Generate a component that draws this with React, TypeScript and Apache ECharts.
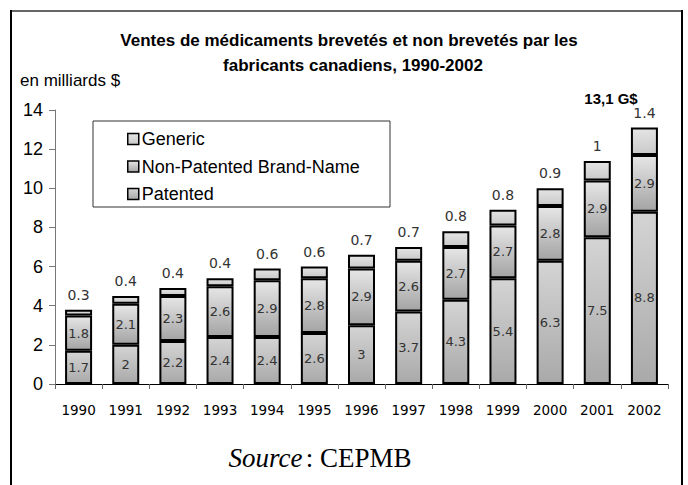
import React, { useEffect, useRef } from "react";
import * as echarts from "echarts";

const years = ["1990","1991","1992","1993","1994","1995","1996","1997","1998","1999","2000","2001","2002"];
const patented = [1.7, 2, 2.2, 2.4, 2.4, 2.6, 3, 3.7, 4.3, 5.4, 6.3, 7.5, 8.8];
const nonPatented = [1.8, 2.1, 2.3, 2.6, 2.9, 2.8, 2.9, 2.6, 2.7, 2.7, 2.8, 2.9, 2.9];
const generic = [0.3, 0.4, 0.4, 0.4, 0.6, 0.6, 0.7, 0.7, 0.8, 0.8, 0.9, 1, 1.4];
const seriesNames = ["Generic", "Non-Patented Brand-Name", "Patented"];

const grad = (top: string, bottom: string) =>
  new echarts.graphic.LinearGradient(0, 0, 0, 1, [
    { offset: 0, color: top },
    { offset: 1, color: bottom },
  ]);

export default function App() {
  const ref = useRef<HTMLDivElement>(null);
  useEffect(() => {
    if (!ref.current) return;
    const chart = echarts.init(ref.current, undefined, { renderer: "svg" });
    const labelFont = { fontFamily: "DejaVu Sans", fontSize: 13, color: "#333" };
    const border = { borderColor: "#000", borderWidth: 2 };
    chart.setOption({
      animation: false,
      backgroundColor: "#fff",
      textStyle: { fontFamily: "Liberation Sans" },
      grid: { left: 55, right: 20, top: 110, bottom: 101 },
      legend: {
        orient: "vertical",
        left: 122,
        top: 125,
        itemGap: 9.5,
        itemWidth: 11,
        itemHeight: 11,
        icon: "rect",
        data: seriesNames,
        textStyle: { fontFamily: "Liberation Sans", fontSize: 18, color: "#000", padding: [0, 0, 0, -2] },
        itemStyle: { borderColor: "#000", borderWidth: 1.5 },
      },
      xAxis: {
        type: "category",
        data: years,
        axisLine: { lineStyle: { color: "#000", width: 1 } },
        axisTick: { show: true, length: 5, lineStyle: { color: "#666" } },
        axisLabel: { fontFamily: "DejaVu Sans", fontSize: 13.5, color: "#000", margin: 19 },
      },
      yAxis: {
        type: "value",
        min: 0,
        max: 14,
        interval: 2,
        splitLine: { show: false },
        axisLine: { show: true, lineStyle: { color: "#777", width: 1 } },
        axisTick: { show: true, length: 6, lineStyle: { color: "#777" } },
        axisLabel: { fontFamily: "Liberation Sans", fontSize: 18, color: "#000", margin: 12 },
      },
      series: [
        {
          name: "Patented",
          type: "bar",
          stack: "total",
          barWidth: 27,
          data: patented,
          itemStyle: { color: grad("#d4d4d4", "#a9a9a9"), ...border },
          label: { show: true, position: "inside", ...labelFont },
        },
        {
          name: "Non-Patented Brand-Name",
          type: "bar",
          stack: "total",
          barWidth: 27,
          data: nonPatented,
          itemStyle: { color: grad("#e6e6e6", "#a4a4a4"), ...border },
          label: { show: true, position: "inside", ...labelFont },
        },
        {
          name: "Generic",
          type: "bar",
          stack: "total",
          barWidth: 27,
          data: generic,
          itemStyle: { color: grad("#e4e4e4", "#cacaca"), ...border },
          label: { show: true, position: "top", distance: 8, ...labelFont, fontSize: 14 },
        },
      ],
      graphic: [
        {
          type: "rect",
          shape: { x: 11, y: 11, width: 671, height: 500 },
          style: { fill: "none", stroke: "#000", lineWidth: 2 },
          z: 100,
        },
        {
          type: "line",
          shape: { x1: 12, y1: 11, x2: 681, y2: 11 },
          style: { stroke: "#666", lineWidth: 2 },
          z: 101,
        },
        {
          type: "rect",
          shape: { x: 93, y: 121, width: 297, height: 86 },
          style: { fill: "#fff", stroke: "#333", lineWidth: 1 },
          z: -1,
        },
        {
          type: "text",
          x: 349,
          y: 40,
          style: {
            text: "Ventes de médicaments brevetés et non brevetés par les",
            font: "bold 17px 'Liberation Sans'",
            fill: "#000",
            align: "center",
            verticalAlign: "middle",
          },
        },
        {
          type: "text",
          x: 353,
          y: 65,
          style: {
            text: "fabricants canadiens, 1990-2002",
            font: "bold 17px 'Liberation Sans'",
            fill: "#000",
            align: "center",
            verticalAlign: "middle",
          },
        },
        {
          type: "text",
          x: 20,
          y: 80,
          style: {
            text: "en milliards $",
            font: "17px 'Liberation Sans'",
            fill: "#000",
            align: "left",
            verticalAlign: "middle",
          },
        },
        {
          type: "text",
          x: 611,
          y: 98,
          style: {
            text: "13,1 G$",
            font: "bold 15px 'Liberation Sans'",
            fill: "#000",
            align: "center",
            verticalAlign: "middle",
          },
        },
        {
          type: "text",
          x: 320,
          y: 458,
          style: {
            text: "{i|Source} {n|: CEPMB}",
            align: "center",
            verticalAlign: "middle",
            rich: {
              i: { fontFamily: "Liberation Serif", fontStyle: "italic", fontSize: 27, fill: "#000" },
              n: { fontFamily: "Liberation Serif", fontSize: 27, fill: "#000" },
            },
          },
        },
      ],
    });
    return () => chart.dispose();
  }, []);
  return <div ref={ref} style={{ width: 688, height: 485, position: "absolute", left: 0, top: 0 }} />;
}
